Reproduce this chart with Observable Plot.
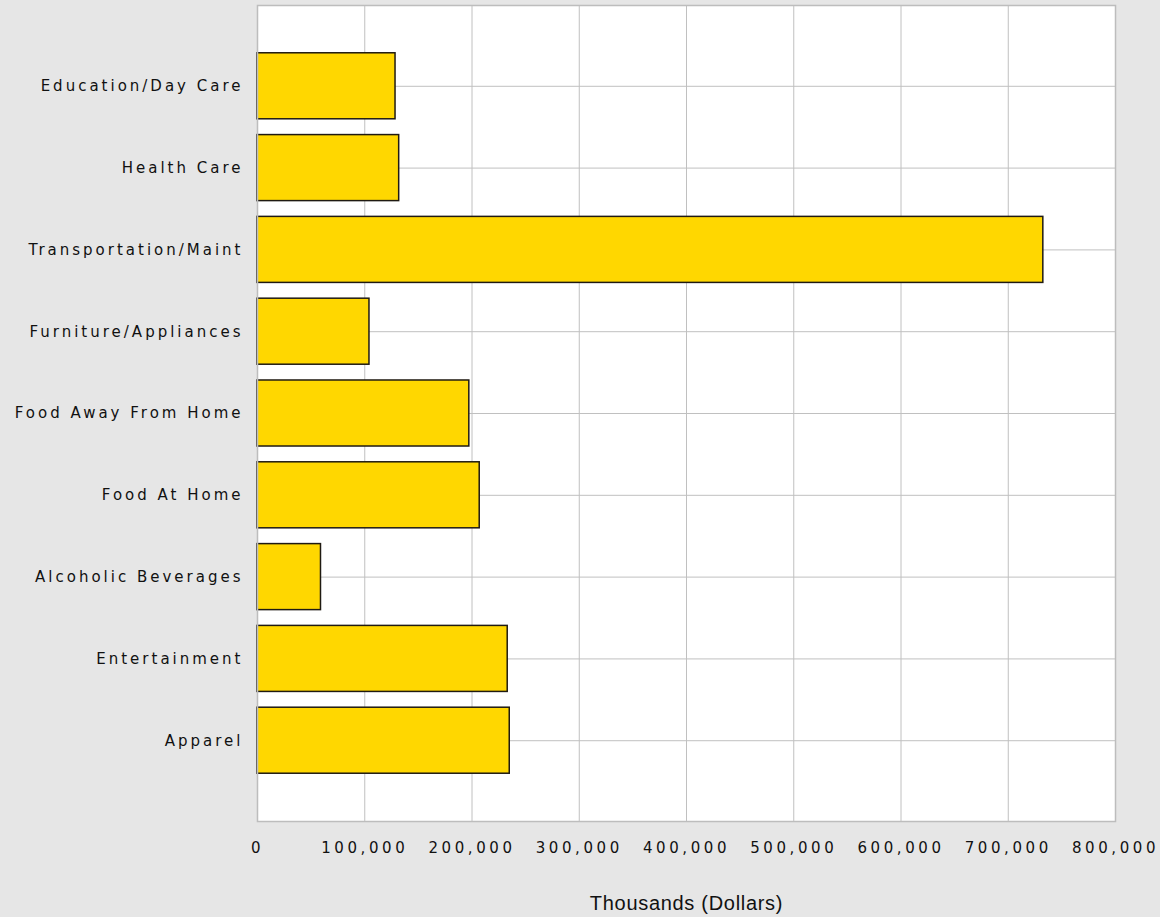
<!DOCTYPE html>
<html>
<head>
<meta charset="utf-8">
<script src="https://cdn.jsdelivr.net/npm/d3@7"></script>
<script src="https://cdn.jsdelivr.net/npm/@observablehq/plot@0.6"></script>
<style>
  html, body { margin: 0; padding: 0; background: #e6e6e6; }
  .chart g[aria-label="y-axis tick label"] text { letter-spacing: 3px; }
  .chart g[aria-label="x-axis tick label"] text { letter-spacing: 3.6px; }
  .chart g[aria-label="text"] text { letter-spacing: 0.7px; }
</style>
</head>
<body>
<div id="chart"></div>
<script>
const categories = [
  "Education/Day Care",
  "Health Care",
  "Transportation/Maint",
  "Furniture/Appliances",
  "Food Away From Home",
  "Food At Home",
  "Alcoholic Beverages",
  "Entertainment",
  "Apparel"
];
const values = [128700, 132100, 732700, 104400, 197500, 207200, 59200, 233300, 235200];
const xTicks = [0, 100000, 200000, 300000, 400000, 500000, 600000, 700000, 800000];
const xTitle = ["Thousands (Dollars)"];

const data = categories.map((c, i) => ({category: c, value: values[i]}));

const chart = Plot.plot({
  className: "chart",
  width: 1160,
  height: 917,
  marginLeft: 257,
  marginRight: 45,
  marginTop: 5,
  marginBottom: 96,
  style: {background: "#e6e6e6", fontFamily: "DejaVu Sans", fontSize: "15px", color: "#111"},
  x: {domain: [0, 800000], ticks: xTicks, tickFormat: d3.format(","), label: null},
  y: {domain: categories, paddingInner: 0.193, paddingOuter: 0.584, round: false, label: null},
  marks: [
    Plot.frame({fill: "white", stroke: null}),
    Plot.gridX(xTicks, {stroke: "#c0c0c0", strokeOpacity: 1, strokeWidth: 1}),
    Plot.gridY({stroke: "#c0c0c0", strokeOpacity: 1, strokeWidth: 1}),
    Plot.barX(data, {x: "value", y: "category", fill: "#FFD700", stroke: "#1f1a12", strokeWidth: 1.5}),
    Plot.axisX(xTicks, {tickSize: 0, tickPadding: 21, tickFormat: d3.format(","), label: null, fontSize: 15, fill: "#111"}),
    Plot.axisY({tickSize: 0, tickPadding: 14, label: null, fontSize: 15, fill: "#111"}),
    Plot.text(xTitle, {frameAnchor: "bottom", dy: 88, text: d => d, fontFamily: "Liberation Sans, Arial, sans-serif", fontSize: 20, fill: "#111"}),
    Plot.frame({stroke: "#bdbdbd", strokeWidth: 1.5})
  ]
});
document.getElementById("chart").appendChild(chart);
</script>
</body>
</html>
